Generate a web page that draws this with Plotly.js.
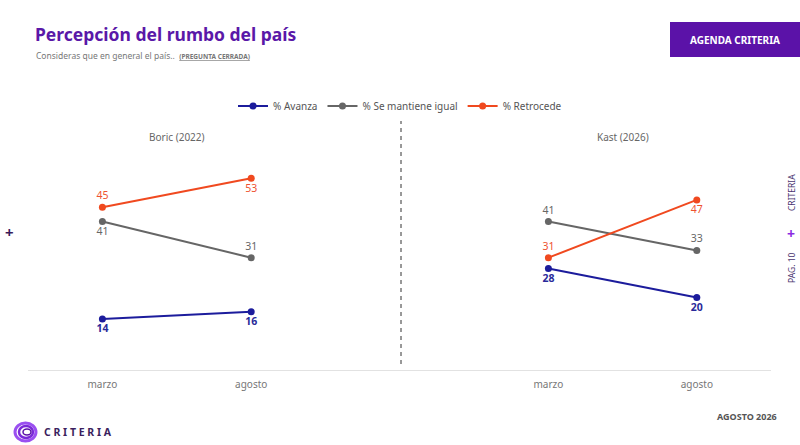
<!DOCTYPE html>
<html>
<head>
<meta charset="utf-8">
<script src="https://cdn.plot.ly/plotly-3.0.1.min.js"></script>
<style>html,body{margin:0;padding:0;background:#fff;}#chart{width:800px;height:445px;}</style>
</head>
<body>
<div id="chart"></div>
<script>
// ---- data ----
const months = ['marzo', 'agosto'];
const seriesNames = ['% Avanza', '% Se mantiene igual', '% Retrocede'];
const boricAvanza = [14, 16];
const boricIgual = [41, 31];
const boricRetrocede = [45, 53];
const kastAvanza = [28, 20];
const kastIgual = [41, 33];
const kastRetrocede = [31, 47];
const panelTitles = ['Boric (2022)', 'Kast (2026)'];

// ---- styles ----
const W = 800, H = 445;
const px = x => x / W;
const py = y => 1 - y / H;
const colors = ['#1c1c9c', '#666666', '#f0491f'];
const labelColors = ['#2a2a9a', '#666666', '#ee5230'];
const labelBold = [true, false, false];
const FONT = 'Noto Sans, Open Sans, sans-serif';

function mk(name, idx, y, xa, ya, pos, showLegend) {
  return {
    type: 'scatter', mode: 'lines+markers+text',
    name: name, legendgroup: name, showlegend: showLegend,
    x: months, y: y, xaxis: xa, yaxis: ya,
    line: {color: colors[idx], width: 2},
    marker: {color: colors[idx], size: 7},
    text: y.map(v => labelBold[idx] ? '<b>' + v + '</b>' : String(v)),
    textposition: pos,
    textfont: {color: labelColors[idx], size: 10.5, family: FONT},
    cliponaxis: false, hoverinfo: 'skip'
  };
}

const B = 'bottom center', T = 'top center';
const data = [
  mk(seriesNames[0], 0, boricAvanza, 'x', 'y', [B, B], true),
  mk(seriesNames[1], 1, boricIgual, 'x', 'y', [B, T], true),
  mk(seriesNames[2], 2, boricRetrocede, 'x', 'y', [T, B], true),
  mk(seriesNames[0], 0, kastAvanza, 'x2', 'y2', [B, B], false),
  mk(seriesNames[1], 1, kastIgual, 'x2', 'y2', [T, T], false),
  mk(seriesNames[2], 2, kastRetrocede, 'x2', 'y2', [T, B], false)
];

const yDomain = [py(369.6), py(153)];
const xaxisBase = {
  type: 'category', showgrid: false, zeroline: false, showline: true,
  linecolor: '#e2e2e2', linewidth: 1, ticks: '', ticklabelstandoff: 5,
  tickfont: {size: 10, color: '#777', family: FONT}, fixedrange: true
};
const yaxisBase = {range: [0, 60], showgrid: false, zeroline: false, showline: false, showticklabels: false, fixedrange: true};

const layout = {
  width: W, height: H, margin: {l: 0, r: 0, t: 0, b: 0},
  paper_bgcolor: '#fff', plot_bgcolor: 'rgba(0,0,0,0)',
  font: {family: FONT, color: '#555'},
  showlegend: true,
  legend: {orientation: 'h', x: 0.5, xanchor: 'center', y: py(106), yanchor: 'middle',
    font: {size: 10, color: '#555', family: FONT}, itemwidth: 30, tracegroupgap: 0, itemclick: false},
  xaxis: Object.assign({}, xaxisBase, {domain: [px(28), px(400)], range: [-0.5, 2.0], anchor: 'y'}),
  yaxis: Object.assign({}, yaxisBase, {domain: yDomain, anchor: 'x'}),
  xaxis2: Object.assign({}, xaxisBase, {domain: [px(400), px(771)], range: [-1.0, 1.5], anchor: 'y2'}),
  yaxis2: Object.assign({}, yaxisBase, {domain: yDomain, anchor: 'x2'}),
  shapes: [
    {type: 'line', xref: 'paper', yref: 'paper', x0: px(401), x1: px(401), y0: py(120), y1: py(368),
      line: {color: '#333', width: 1, dash: '4px,4px'}},
    {type: 'rect', xref: 'paper', yref: 'paper', x0: px(670), x1: px(800), y0: py(22), y1: py(57),
      fillcolor: '#5b12a8', line: {width: 0}},
    {type: 'circle', xref: 'paper', yref: 'paper', x0: px(15), x1: px(36), y0: py(441), y1: py(423),
      fillcolor: 'rgba(0,0,0,0)', line: {color: '#9a4ff0', width: 3}},
    {type: 'circle', xref: 'paper', yref: 'paper', x0: px(19), x1: px(33), y0: py(438), y1: py(426),
      fillcolor: 'rgba(0,0,0,0)', line: {color: '#7a2ad8', width: 2.5}},
    {type: 'circle', xref: 'paper', yref: 'paper', x0: px(23), x1: px(31), y0: py(435), y1: py(429),
      fillcolor: '#fff', line: {color: '#5b12a8', width: 1.5}}
  ],
  annotations: [
    {xref: 'paper', yref: 'paper', x: px(33), y: py(34), xanchor: 'left', yanchor: 'middle', showarrow: false,
      text: '<b>Percepción del rumbo del país</b>', font: {size: 17.5, color: '#5a18a8', family: FONT}},
    {xref: 'paper', yref: 'paper', x: px(34), y: py(56), xanchor: 'left', yanchor: 'middle', showarrow: false,
      text: 'Consideras que en general el país..  <span style="font-size:6.5px"><b><u>(PREGUNTA CERRADA)</u></b></span>',
      font: {size: 8.5, color: '#777', family: FONT}},
    {xref: 'paper', yref: 'paper', x: px(735), y: py(40), xanchor: 'center', yanchor: 'middle', showarrow: false,
      text: '<b>AGENDA CRITERIA</b>', font: {size: 10, color: '#fff', family: FONT}},
    {xref: 'x', yref: 'paper', x: 0.5, y: py(137), xanchor: 'center', yanchor: 'middle', showarrow: false,
      text: panelTitles[0], font: {size: 10, color: '#666', family: FONT}},
    {xref: 'x2', yref: 'paper', x: 0.5, y: py(137), xanchor: 'center', yanchor: 'middle', showarrow: false,
      text: panelTitles[1], font: {size: 10, color: '#666', family: FONT}},
    {xref: 'paper', yref: 'paper', x: px(791), y: py(193), xanchor: 'center', yanchor: 'middle', showarrow: false,
      textangle: -90, text: 'CRITERIA', font: {size: 8.5, color: '#4a3470', family: FONT}},
    {xref: 'paper', yref: 'paper', x: px(791), y: py(233), xanchor: 'center', yanchor: 'middle', showarrow: false,
      text: '<b>+</b>', font: {size: 14, color: '#8a2be2', family: FONT}},
    {xref: 'paper', yref: 'paper', x: px(791), y: py(268), xanchor: 'center', yanchor: 'middle', showarrow: false,
      textangle: -90, text: 'PAG. 10', font: {size: 8.5, color: '#4a3470', family: FONT}},
    {xref: 'paper', yref: 'paper', x: px(9), y: py(232), xanchor: 'center', yanchor: 'middle', showarrow: false,
      text: '<b>+</b>', font: {size: 15, color: '#3a1a5a', family: FONT}},
    {xref: 'paper', yref: 'paper', x: px(779), y: py(416), xanchor: 'right', yanchor: 'middle', showarrow: false,
      text: '<b>AGOSTO 2026</b>', font: {size: 9, color: '#555', family: FONT}},
    {xref: 'paper', yref: 'paper', x: px(42), y: py(432), xanchor: 'left', yanchor: 'middle', showarrow: false,
      text: '<b>C R I T E R I A</b>', font: {size: 10.5, color: '#3b1f5e', family: FONT}}
  ]
};

Plotly.newPlot('chart', data, layout, {staticPlot: true, displayModeBar: false});
</script>
</body>
</html>
